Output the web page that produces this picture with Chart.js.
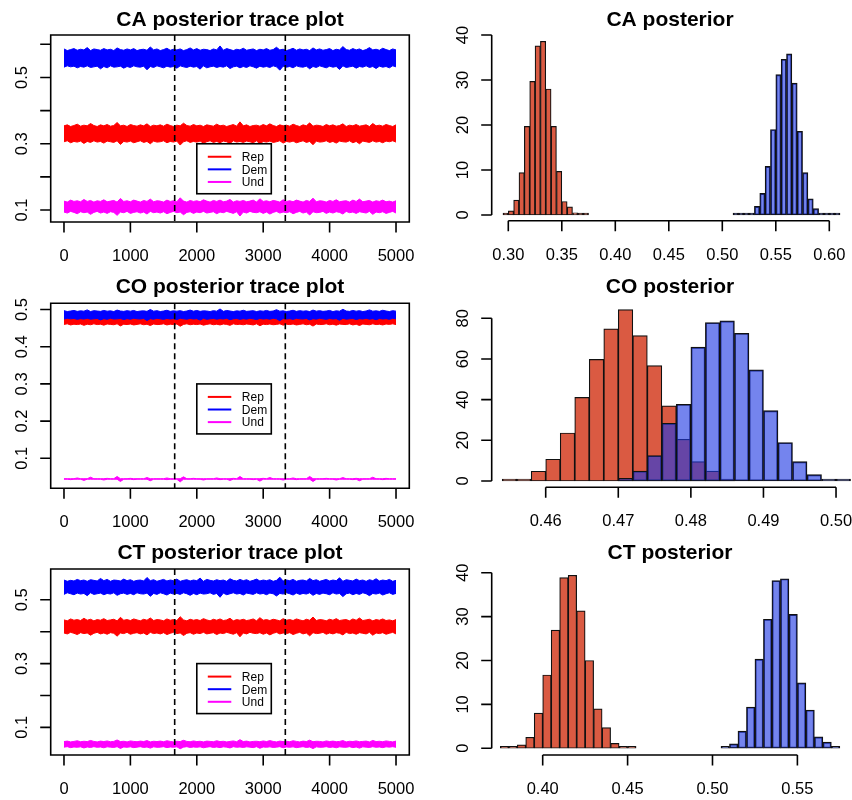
<!DOCTYPE html>
<html><head><meta charset="utf-8">
<script src="https://cdn.jsdelivr.net/npm/chart.js@4/dist/chart.umd.min.js"></script>
<style>
html,body{margin:0;padding:0;background:#fff;width:852px;height:800px;overflow:hidden}
canvas{position:absolute;left:0;top:0}
</style></head>
<body>
<canvas id="c1" width="852" height="800"></canvas>
<canvas id="c2" width="852" height="800"></canvas>
<canvas id="c3" width="852" height="800"></canvas>
<canvas id="c4" width="852" height="800"></canvas>
<canvas id="c5" width="852" height="800"></canvas>
<canvas id="c6" width="852" height="800"></canvas>
<script>
// ---------------- DATA ----------------
const seriesNames = ['Rep', 'Dem', 'Und'];
const iterations = [0,50,100,150,200,250,300,350,400,450,500,550,600,650,700,750,800,850,900,950,1000,1050,1100,1150,1200,1250,1300,1350,1400,1450,1500,1550,1600,1650,1700,1750,1800,1850,1900,1950,2000,2050,2100,2150,2200,2250,2300,2350,2400,2450,2500,2550,2600,2650,2700,2750,2800,2850,2900,2950,3000,3050,3100,3150,3200,3250,3300,3350,3400,3450,3500,3550,3600,3650,3700,3750,3800,3850,3900,3950,4000,4050,4100,4150,4200,4250,4300,4350,4400,4450,4500,4550,4600,4650,4700,4750,4800,4850,4900,4950,5000];
const chainSplits = [1667, 3333];

// trace envelopes (local upper / lower extent of the sampled values)
const caRepHi = [0.354,0.357,0.352,0.355,0.359,0.353,0.356,0.354,0.361,0.355,0.352,0.357,0.354,0.358,0.353,0.355,0.364,0.354,0.356,0.352,0.358,0.355,0.353,0.357,0.354,0.360,0.352,0.356,0.354,0.357,0.353,0.359,0.355,0.352,0.356,0.354,0.362,0.355,0.353,0.358,0.354,0.356,0.352,0.357,0.355,0.353,0.359,0.354,0.356,0.352,0.355,0.358,0.353,0.366,0.354,0.357,0.352,0.355,0.356,0.353,0.358,0.354,0.360,0.355,0.352,0.357,0.354,0.356,0.353,0.359,0.355,0.352,0.357,0.354,0.363,0.353,0.356,0.355,0.352,0.358,0.354,0.357,0.353,0.355,0.360,0.352,0.356,0.354,0.358,0.353,0.355,0.357,0.352,0.361,0.354,0.356,0.353,0.358,0.355,0.352,0.357];
const caRepLo = [0.306,0.309,0.303,0.307,0.305,0.308,0.301,0.307,0.304,0.309,0.305,0.307,0.302,0.308,0.306,0.304,0.309,0.298,0.307,0.305,0.308,0.303,0.306,0.309,0.304,0.307,0.300,0.308,0.305,0.306,0.309,0.303,0.307,0.305,0.308,0.296,0.306,0.309,0.304,0.307,0.305,0.308,0.302,0.306,0.309,0.304,0.307,0.303,0.308,0.306,0.301,0.309,0.305,0.307,0.304,0.308,0.306,0.303,0.309,0.299,0.307,0.305,0.308,0.304,0.306,0.309,0.302,0.307,0.305,0.308,0.303,0.306,0.309,0.304,0.307,0.297,0.308,0.305,0.306,0.309,0.304,0.307,0.302,0.308,0.306,0.305,0.309,0.303,0.307,0.300,0.308,0.306,0.304,0.309,0.305,0.307,0.303,0.308,0.306,0.309,0.305];
const caDemHi = [0.586,0.581,0.584,0.587,0.582,0.585,0.583,0.590,0.581,0.586,0.584,0.582,0.587,0.583,0.585,0.581,0.589,0.584,0.582,0.586,0.583,0.587,0.581,0.584,0.585,0.582,0.592,0.583,0.586,0.581,0.584,0.588,0.582,0.585,0.583,0.586,0.581,0.584,0.589,0.583,0.587,0.582,0.585,0.584,0.581,0.586,0.583,0.595,0.582,0.587,0.584,0.581,0.585,0.583,0.588,0.582,0.584,0.586,0.581,0.585,0.583,0.587,0.582,0.584,0.591,0.583,0.585,0.581,0.584,0.588,0.582,0.586,0.583,0.585,0.581,0.589,0.583,0.586,0.582,0.584,0.587,0.581,0.585,0.583,0.593,0.584,0.582,0.587,0.583,0.586,0.581,0.584,0.590,0.583,0.585,0.582,0.588,0.584,0.581,0.586,0.583];
const caDemLo = [0.531,0.535,0.532,0.534,0.529,0.533,0.531,0.535,0.530,0.532,0.534,0.526,0.533,0.529,0.535,0.531,0.532,0.534,0.528,0.533,0.530,0.535,0.532,0.531,0.534,0.523,0.533,0.530,0.535,0.532,0.529,0.534,0.531,0.533,0.528,0.535,0.532,0.530,0.534,0.531,0.533,0.525,0.535,0.529,0.532,0.534,0.530,0.533,0.531,0.535,0.527,0.532,0.534,0.529,0.533,0.530,0.535,0.532,0.528,0.534,0.531,0.533,0.530,0.535,0.532,0.522,0.534,0.531,0.533,0.529,0.535,0.532,0.531,0.534,0.526,0.533,0.530,0.535,0.532,0.529,0.534,0.531,0.533,0.524,0.535,0.530,0.532,0.534,0.528,0.533,0.531,0.535,0.530,0.533,0.527,0.534,0.531,0.533,0.529,0.535,0.532];
const caUndHi = [0.127,0.124,0.130,0.126,0.128,0.125,0.132,0.126,0.129,0.124,0.128,0.126,0.131,0.125,0.127,0.129,0.124,0.135,0.126,0.128,0.125,0.130,0.127,0.124,0.129,0.126,0.133,0.125,0.128,0.127,0.124,0.130,0.126,0.128,0.125,0.137,0.127,0.124,0.129,0.126,0.128,0.125,0.131,0.127,0.124,0.129,0.126,0.130,0.125,0.127,0.132,0.124,0.128,0.126,0.129,0.125,0.127,0.130,0.124,0.134,0.126,0.128,0.125,0.129,0.127,0.124,0.131,0.126,0.128,0.125,0.130,0.127,0.124,0.129,0.126,0.136,0.125,0.128,0.127,0.124,0.129,0.126,0.131,0.125,0.127,0.128,0.124,0.130,0.126,0.133,0.125,0.127,0.129,0.124,0.128,0.126,0.130,0.125,0.127,0.124,0.128];
const caUndLo = [0.094,0.091,0.096,0.093,0.089,0.095,0.092,0.094,0.087,0.093,0.096,0.091,0.094,0.090,0.095,0.093,0.084,0.094,0.092,0.096,0.090,0.093,0.095,0.091,0.094,0.088,0.096,0.092,0.094,0.091,0.095,0.089,0.093,0.096,0.092,0.094,0.086,0.093,0.095,0.090,0.094,0.092,0.096,0.091,0.093,0.095,0.089,0.094,0.092,0.096,0.093,0.090,0.095,0.082,0.094,0.091,0.096,0.093,0.092,0.095,0.090,0.094,0.088,0.093,0.096,0.091,0.094,0.092,0.095,0.089,0.093,0.096,0.091,0.094,0.085,0.095,0.092,0.093,0.096,0.090,0.094,0.091,0.095,0.093,0.088,0.096,0.092,0.094,0.090,0.095,0.093,0.091,0.096,0.087,0.094,0.092,0.095,0.090,0.093,0.096,0.091];

const coRepHi = [0.4800,0.4815,0.4790,0.4805,0.4825,0.4795,0.4810,0.4800,0.4835,0.4805,0.4790,0.4815,0.4800,0.4820,0.4795,0.4805,0.4850,0.4800,0.4810,0.4790,0.4820,0.4805,0.4795,0.4815,0.4800,0.4830,0.4790,0.4810,0.4800,0.4815,0.4795,0.4825,0.4805,0.4790,0.4810,0.4800,0.4840,0.4805,0.4795,0.4820,0.4800,0.4810,0.4790,0.4815,0.4805,0.4795,0.4825,0.4800,0.4810,0.4790,0.4805,0.4820,0.4795,0.4860,0.4800,0.4815,0.4790,0.4805,0.4810,0.4795,0.4820,0.4800,0.4830,0.4805,0.4790,0.4815,0.4800,0.4810,0.4795,0.4825,0.4805,0.4790,0.4815,0.4800,0.4845,0.4795,0.4810,0.4805,0.4790,0.4820,0.4800,0.4815,0.4795,0.4805,0.4830,0.4790,0.4810,0.4800,0.4820,0.4795,0.4805,0.4815,0.4790,0.4835,0.4800,0.4810,0.4795,0.4820,0.4805,0.4790,0.4815];
const coRepLo = [0.4600,0.4615,0.4585,0.4605,0.4595,0.4610,0.4575,0.4605,0.4590,0.4615,0.4595,0.4605,0.4580,0.4610,0.4600,0.4590,0.4615,0.4560,0.4605,0.4595,0.4610,0.4585,0.4600,0.4615,0.4590,0.4605,0.4570,0.4610,0.4595,0.4600,0.4615,0.4585,0.4605,0.4595,0.4610,0.4550,0.4600,0.4615,0.4590,0.4605,0.4595,0.4610,0.4580,0.4600,0.4615,0.4590,0.4605,0.4585,0.4610,0.4600,0.4575,0.4615,0.4595,0.4605,0.4590,0.4610,0.4600,0.4585,0.4615,0.4565,0.4605,0.4595,0.4610,0.4590,0.4600,0.4615,0.4580,0.4605,0.4595,0.4610,0.4585,0.4600,0.4615,0.4590,0.4605,0.4555,0.4610,0.4595,0.4600,0.4615,0.4590,0.4605,0.4580,0.4610,0.4600,0.4595,0.4615,0.4585,0.4605,0.4570,0.4610,0.4600,0.4590,0.4615,0.4595,0.4605,0.4585,0.4610,0.4600,0.4615,0.4595];
const coDemHi = [0.4970,0.4945,0.4960,0.4975,0.4950,0.4965,0.4955,0.4990,0.4945,0.4970,0.4960,0.4950,0.4975,0.4955,0.4965,0.4945,0.4985,0.4960,0.4950,0.4970,0.4955,0.4975,0.4945,0.4960,0.4965,0.4950,0.5000,0.4955,0.4970,0.4945,0.4960,0.4980,0.4950,0.4965,0.4955,0.4970,0.4945,0.4960,0.4985,0.4955,0.4975,0.4950,0.4965,0.4960,0.4945,0.4970,0.4955,0.5015,0.4950,0.4975,0.4960,0.4945,0.4965,0.4955,0.4980,0.4950,0.4960,0.4970,0.4945,0.4965,0.4955,0.4975,0.4950,0.4960,0.4995,0.4955,0.4965,0.4945,0.4960,0.4980,0.4950,0.4970,0.4955,0.4965,0.4945,0.4985,0.4955,0.4970,0.4950,0.4960,0.4975,0.4945,0.4965,0.4955,0.5005,0.4960,0.4950,0.4975,0.4955,0.4970,0.4945,0.4960,0.4990,0.4955,0.4965,0.4950,0.4980,0.4960,0.4945,0.4970,0.4955];
const coDemLo = [0.4745,0.4765,0.4750,0.4760,0.4735,0.4755,0.4745,0.4765,0.4740,0.4750,0.4760,0.4720,0.4755,0.4735,0.4765,0.4745,0.4750,0.4760,0.4730,0.4755,0.4740,0.4765,0.4750,0.4745,0.4760,0.4705,0.4755,0.4740,0.4765,0.4750,0.4735,0.4760,0.4745,0.4755,0.4730,0.4765,0.4750,0.4740,0.4760,0.4745,0.4755,0.4715,0.4765,0.4735,0.4750,0.4760,0.4740,0.4755,0.4745,0.4765,0.4725,0.4750,0.4760,0.4735,0.4755,0.4740,0.4765,0.4750,0.4730,0.4760,0.4745,0.4755,0.4740,0.4765,0.4750,0.4700,0.4760,0.4745,0.4755,0.4735,0.4765,0.4750,0.4745,0.4760,0.4720,0.4755,0.4740,0.4765,0.4750,0.4735,0.4760,0.4745,0.4755,0.4710,0.4765,0.4740,0.4750,0.4760,0.4730,0.4755,0.4745,0.4765,0.4740,0.4755,0.4725,0.4760,0.4745,0.4755,0.4735,0.4765,0.4750];
const coUndHi = [0.0452,0.0452,0.0452,0.0452,0.0472,0.0452,0.0452,0.0452,0.0492,0.0452,0.0452,0.0452,0.0452,0.0462,0.0452,0.0452,0.0512,0.0452,0.0452,0.0452,0.0462,0.0452,0.0452,0.0452,0.0452,0.0482,0.0452,0.0452,0.0452,0.0452,0.0452,0.0472,0.0452,0.0452,0.0452,0.0452,0.0502,0.0452,0.0452,0.0462,0.0452,0.0452,0.0452,0.0452,0.0452,0.0452,0.0472,0.0452,0.0452,0.0452,0.0452,0.0462,0.0452,0.0512,0.0452,0.0452,0.0452,0.0452,0.0452,0.0452,0.0462,0.0452,0.0482,0.0452,0.0452,0.0452,0.0452,0.0452,0.0452,0.0472,0.0452,0.0452,0.0452,0.0452,0.0512,0.0452,0.0452,0.0452,0.0452,0.0462,0.0452,0.0452,0.0452,0.0452,0.0482,0.0452,0.0452,0.0452,0.0462,0.0452,0.0452,0.0452,0.0452,0.0492,0.0452,0.0452,0.0452,0.0462,0.0452,0.0452,0.0452];
const coUndLo = [0.0437,0.0437,0.0427,0.0437,0.0437,0.0437,0.0407,0.0437,0.0437,0.0437,0.0437,0.0437,0.0417,0.0437,0.0437,0.0437,0.0437,0.0377,0.0437,0.0437,0.0437,0.0427,0.0437,0.0437,0.0437,0.0437,0.0397,0.0437,0.0437,0.0437,0.0437,0.0427,0.0437,0.0437,0.0437,0.0367,0.0437,0.0437,0.0437,0.0437,0.0437,0.0437,0.0417,0.0437,0.0437,0.0437,0.0437,0.0427,0.0437,0.0437,0.0407,0.0437,0.0437,0.0437,0.0437,0.0437,0.0437,0.0427,0.0437,0.0387,0.0437,0.0437,0.0437,0.0437,0.0437,0.0437,0.0417,0.0437,0.0437,0.0437,0.0427,0.0437,0.0437,0.0437,0.0437,0.0377,0.0437,0.0437,0.0437,0.0437,0.0437,0.0437,0.0417,0.0437,0.0437,0.0437,0.0437,0.0427,0.0437,0.0397,0.0437,0.0437,0.0437,0.0437,0.0437,0.0437,0.0427,0.0437,0.0437,0.0437,0.0437];

const ctRepHi = [0.437,0.434,0.440,0.436,0.438,0.435,0.442,0.436,0.439,0.434,0.438,0.436,0.441,0.435,0.437,0.439,0.434,0.445,0.436,0.438,0.435,0.440,0.437,0.434,0.439,0.436,0.443,0.435,0.438,0.437,0.434,0.440,0.436,0.438,0.435,0.447,0.437,0.434,0.439,0.436,0.438,0.435,0.441,0.437,0.434,0.439,0.436,0.440,0.435,0.437,0.442,0.434,0.438,0.436,0.439,0.435,0.437,0.440,0.434,0.444,0.436,0.438,0.435,0.439,0.437,0.434,0.441,0.436,0.438,0.435,0.440,0.437,0.434,0.439,0.436,0.446,0.435,0.438,0.437,0.434,0.439,0.436,0.441,0.435,0.437,0.438,0.434,0.440,0.436,0.443,0.435,0.437,0.439,0.434,0.438,0.436,0.440,0.435,0.437,0.434,0.438];
const ctRepLo = [0.396,0.393,0.398,0.395,0.391,0.397,0.394,0.396,0.389,0.395,0.398,0.393,0.396,0.392,0.397,0.395,0.386,0.396,0.394,0.398,0.392,0.395,0.397,0.393,0.396,0.390,0.398,0.394,0.396,0.393,0.397,0.391,0.395,0.398,0.394,0.396,0.388,0.395,0.397,0.392,0.396,0.394,0.398,0.393,0.395,0.397,0.391,0.396,0.394,0.398,0.395,0.392,0.397,0.384,0.396,0.393,0.398,0.395,0.394,0.397,0.392,0.396,0.390,0.395,0.398,0.393,0.396,0.394,0.397,0.391,0.395,0.398,0.393,0.396,0.387,0.397,0.394,0.395,0.398,0.392,0.396,0.393,0.397,0.395,0.390,0.398,0.394,0.396,0.392,0.397,0.395,0.393,0.398,0.389,0.396,0.394,0.397,0.392,0.395,0.398,0.393];
const ctDemHi = [0.562,0.558,0.561,0.559,0.564,0.560,0.562,0.558,0.563,0.561,0.559,0.567,0.560,0.564,0.558,0.562,0.561,0.559,0.565,0.560,0.563,0.558,0.561,0.562,0.559,0.570,0.560,0.563,0.558,0.561,0.564,0.559,0.562,0.560,0.565,0.558,0.561,0.563,0.559,0.562,0.560,0.568,0.558,0.564,0.561,0.559,0.563,0.560,0.562,0.558,0.566,0.561,0.559,0.564,0.560,0.563,0.558,0.561,0.565,0.559,0.562,0.560,0.563,0.558,0.561,0.571,0.559,0.562,0.560,0.564,0.558,0.561,0.562,0.559,0.567,0.560,0.563,0.558,0.561,0.564,0.559,0.562,0.560,0.569,0.558,0.563,0.561,0.559,0.565,0.560,0.562,0.558,0.563,0.560,0.566,0.559,0.562,0.560,0.564,0.558,0.561];
const ctDemLo = [0.517,0.522,0.519,0.516,0.521,0.518,0.520,0.513,0.522,0.517,0.519,0.521,0.516,0.520,0.518,0.522,0.514,0.519,0.521,0.517,0.520,0.516,0.522,0.519,0.518,0.521,0.511,0.520,0.517,0.522,0.519,0.515,0.521,0.518,0.520,0.517,0.522,0.519,0.514,0.520,0.516,0.521,0.518,0.519,0.522,0.517,0.520,0.508,0.521,0.516,0.519,0.522,0.518,0.520,0.515,0.521,0.519,0.517,0.522,0.518,0.520,0.516,0.521,0.519,0.512,0.520,0.518,0.522,0.519,0.515,0.521,0.517,0.520,0.518,0.522,0.514,0.520,0.517,0.521,0.519,0.516,0.522,0.518,0.520,0.510,0.519,0.521,0.516,0.520,0.517,0.522,0.519,0.513,0.520,0.518,0.521,0.515,0.519,0.522,0.517,0.520];
const ctUndHi = [0.0555,0.0570,0.0545,0.0560,0.0580,0.0550,0.0565,0.0555,0.0590,0.0560,0.0545,0.0570,0.0555,0.0575,0.0550,0.0560,0.0605,0.0555,0.0565,0.0545,0.0575,0.0560,0.0550,0.0570,0.0555,0.0585,0.0545,0.0565,0.0555,0.0570,0.0550,0.0580,0.0560,0.0545,0.0565,0.0555,0.0595,0.0560,0.0550,0.0575,0.0555,0.0565,0.0545,0.0570,0.0560,0.0550,0.0580,0.0555,0.0565,0.0545,0.0560,0.0575,0.0550,0.0615,0.0555,0.0570,0.0545,0.0560,0.0565,0.0550,0.0575,0.0555,0.0585,0.0560,0.0545,0.0570,0.0555,0.0565,0.0550,0.0580,0.0560,0.0545,0.0570,0.0555,0.0600,0.0550,0.0565,0.0560,0.0545,0.0575,0.0555,0.0570,0.0550,0.0560,0.0585,0.0545,0.0565,0.0555,0.0575,0.0550,0.0560,0.0570,0.0545,0.0590,0.0555,0.0565,0.0550,0.0575,0.0560,0.0545,0.0570];
const ctUndLo = [0.0380,0.0395,0.0365,0.0385,0.0375,0.0390,0.0355,0.0385,0.0370,0.0395,0.0375,0.0385,0.0360,0.0390,0.0380,0.0370,0.0395,0.0340,0.0385,0.0375,0.0390,0.0365,0.0380,0.0395,0.0370,0.0385,0.0350,0.0390,0.0375,0.0380,0.0395,0.0365,0.0385,0.0375,0.0390,0.0330,0.0380,0.0395,0.0370,0.0385,0.0375,0.0390,0.0360,0.0380,0.0395,0.0370,0.0385,0.0365,0.0390,0.0380,0.0355,0.0395,0.0375,0.0385,0.0370,0.0390,0.0380,0.0365,0.0395,0.0345,0.0385,0.0375,0.0390,0.0370,0.0380,0.0395,0.0360,0.0385,0.0375,0.0390,0.0365,0.0380,0.0395,0.0370,0.0385,0.0335,0.0390,0.0375,0.0380,0.0395,0.0370,0.0385,0.0360,0.0390,0.0380,0.0375,0.0395,0.0365,0.0385,0.0350,0.0390,0.0380,0.0370,0.0395,0.0375,0.0385,0.0365,0.0390,0.0380,0.0395,0.0375];

// histogram bins (mid points) and densities
const caRepMid = [0.2975,0.3025,0.3075,0.3125,0.3175,0.3225,0.3275,0.3325,0.3375,0.3425,0.3475,0.3525,0.3575,0.3625,0.3675,0.3725];
const caRepDens = [0.3,0.9,3.3,9.4,19.7,29.7,37.6,38.6,28.0,19.7,9.7,3.0,1.8,0.5,0.2,0.4];
const caDemMid = [0.5125,0.5175,0.5225,0.5275,0.5325,0.5375,0.5425,0.5475,0.5525,0.5575,0.5625,0.5675,0.5725,0.5775,0.5825,0.5875,0.5925,0.5975,0.6025,0.6075];
const caDemDens = [0.2,0.2,0.3,0.2,1.9,4.8,10.8,19.0,31.2,34.6,35.8,29.3,18.6,9.4,3.6,1.4,0.2,0.3,0.2,0.2];
const coRepMid = [0.455,0.457,0.459,0.461,0.463,0.465,0.467,0.469,0.471,0.473,0.475,0.477,0.479,0.481,0.483,0.485];
const coRepDens = [0.3,0.8,4.8,10.7,23.6,41.1,59.8,74.8,84.3,71.5,56.7,36.9,20.5,9.5,4.9,1.0];
const coDemMid = [0.471,0.473,0.475,0.477,0.479,0.481,0.483,0.485,0.487,0.489,0.491,0.493,0.495,0.497,0.499,0.501];
const coDemDens = [1.3,4.9,12.5,28.4,37.7,65.8,77.9,78.7,72.6,54.6,34.6,18.9,9.5,3.1,0.8,0.3];
const ctRepMid = [0.3775,0.3825,0.3875,0.3925,0.3975,0.4025,0.4075,0.4125,0.4175,0.4225,0.4275,0.4325,0.4375,0.4425,0.4475,0.4525];
const ctRepDens = [0.1,0.4,0.8,2.5,8.0,16.7,26.9,38.9,39.4,31.3,20.0,9.0,4.7,1.1,0.1,0.1];
const ctDemMid = [0.5075,0.5125,0.5175,0.5225,0.5275,0.5325,0.5375,0.5425,0.5475,0.5525,0.5575,0.5625,0.5675,0.5725];
const ctDemDens = [0.3,1.0,3.9,9.4,20.3,29.4,38.2,38.6,30.5,14.9,8.7,2.6,1.4,0.3];

// tick values and labels
const traceXTicks = [0,1000,2000,3000,4000,5000];
const traceXLabels = ['0','1000','2000','3000','4000','5000'];
const caTraceYTicks = [0.1,0.2,0.3,0.4,0.5,0.6];
const caTraceYLabels = ['0.1','','0.3','','0.5',''];
const coTraceYTicks = [0.1,0.2,0.3,0.4,0.5];
const coTraceYLabels = ['0.1','0.2','0.3','0.4','0.5'];
const ctTraceYTicks = [0.1,0.2,0.3,0.4,0.5];
const ctTraceYLabels = ['0.1','','0.3','','0.5'];
const caHistXTicks = [0.30,0.35,0.40,0.45,0.50,0.55,0.60];
const caHistXLabels = ['0.30','0.35','0.40','0.45','0.50','0.55','0.60'];
const caHistYTicks = [0,10,20,30,40];
const caHistYLabels = ['0','10','20','30','40'];
const coHistXTicks = [0.46,0.47,0.48,0.49,0.50];
const coHistXLabels = ['0.46','0.47','0.48','0.49','0.50'];
const coHistYTicks = [0,20,40,60,80];
const coHistYLabels = ['0','20','40','60','80'];
const ctHistXTicks = [0.40,0.45,0.50,0.55];
const ctHistXLabels = ['0.40','0.45','0.50','0.55'];
const ctHistYTicks = [0,10,20,30,40];
const ctHistYLabels = ['0','10','20','30','40'];

// ---------------- STYLE / DRAWING ----------------
const W = 852, H = 800;
const traceColors = ['#FF0000', '#0000FF', '#FF00FF'];
const histRed = 'rgb(218,90,66)';
const histBlue = 'rgba(30,57,228,0.62)';
const FONT = '"Liberation Sans", Arial, sans-serif';

const rStyle = {
  id: 'rStyle',
  afterDraw(chart, args, o) {
    const ctx = chart.ctx, ca = chart.chartArea, xs = chart.scales.x, ys = chart.scales.y;
    const TL = 10.5;
    ctx.save();
    if (o.vlines) {
      ctx.strokeStyle = '#000'; ctx.lineWidth = 1.6; ctx.setLineDash([6, 4]);
      for (const v of o.vlines) {
        const p = xs.getPixelForValue(v);
        ctx.beginPath(); ctx.moveTo(p, ca.top); ctx.lineTo(p, ca.bottom); ctx.stroke();
      }
      ctx.setLineDash([]);
    }
    if (o.legend) {
      const lx = xs.getPixelForValue(o.legend.x), ly = ys.getPixelForValue(o.legend.y);
      ctx.fillStyle = '#fff'; ctx.fillRect(lx, ly, 74.5, 50);
      ctx.strokeStyle = '#000'; ctx.lineWidth = 1.6; ctx.strokeRect(lx, ly, 74.5, 50);
      ctx.font = '12px ' + FONT; ctx.textAlign = 'left'; ctx.textBaseline = 'middle';
      seriesNames.forEach((n, i) => {
        const y = ly + 13 + i * 12.6;
        ctx.strokeStyle = traceColors[i]; ctx.lineWidth = 2;
        ctx.beginPath(); ctx.moveTo(lx + 11, y); ctx.lineTo(lx + 34.5, y); ctx.stroke();
        ctx.fillStyle = '#000'; ctx.fillText(n, lx + 45, y + 1);
      });
    }
    ctx.strokeStyle = '#000'; ctx.lineWidth = 1.6; ctx.fillStyle = '#000';
    const xp = o.xTicks.map(v => xs.getPixelForValue(v));
    const yp = o.yTicks.map(v => ys.getPixelForValue(v));
    ctx.beginPath();
    if (o.box) {
      ctx.rect(ca.left, ca.top, ca.right - ca.left, ca.bottom - ca.top);
    } else {
      ctx.moveTo(xp[0], ca.bottom); ctx.lineTo(xp[xp.length - 1], ca.bottom);
      ctx.moveTo(ca.left, yp[0]); ctx.lineTo(ca.left, yp[yp.length - 1]);
    }
    xp.forEach(p => { ctx.moveTo(p, ca.bottom); ctx.lineTo(p, ca.bottom + TL); });
    yp.forEach(p => { ctx.moveTo(ca.left, p); ctx.lineTo(ca.left - TL, p); });
    ctx.stroke();
    ctx.font = '16.5px ' + FONT; ctx.textAlign = 'center'; ctx.textBaseline = 'middle';
    o.xTicks.forEach((v, i) => { const s = o.xLabels[i]; if (s) ctx.fillText(s, xp[i], ca.bottom + 34.5); });
    o.yTicks.forEach((v, i) => {
      const s = o.yLabels[i];
      if (s) { ctx.save(); ctx.translate(ca.left - 28.5, yp[i]); ctx.rotate(-Math.PI / 2); ctx.fillText(s, 0, 0); ctx.restore(); }
    });
    ctx.font = 'bold 21px ' + FONT; ctx.textBaseline = 'alphabetic';
    ctx.fillText(o.title, o.titleX !== undefined ? o.titleX : (ca.left + ca.right) / 2, o.titleY);
    ctx.restore();
  }
};

function baseOptions(area, xr, yr, style) {
  return {
    responsive: false, animation: false, events: [],
    layout: { padding: { left: area[0], top: area[1], right: W - area[2], bottom: H - area[3] } },
    scales: {
      x: { type: 'linear', display: false, min: xr[0], max: xr[1], offset: false,
           afterBuildTicks: s => { s.ticks = [{ value: s.min }, { value: s.max }]; } },
      y: { type: 'linear', display: false, min: yr[0], max: yr[1],
           afterBuildTicks: s => { s.ticks = [{ value: s.min }, { value: s.max }]; } }
    },
    plugins: { legend: { display: false }, tooltip: { enabled: false }, rStyle: style }
  };
}

function traceChart(id, series, area, yr, style) {
  const pts = arr => iterations.map((x, i) => ({ x: x, y: arr[i] }));
  const datasets = [];
  series.forEach((s, k) => {
    const common = { borderColor: traceColors[k], backgroundColor: traceColors[k], borderWidth: 1,
                     pointRadius: 0, tension: 0, order: 3 - k, label: seriesNames[k] };
    datasets.push(Object.assign({ data: pts(s[0]), fill: '+1' }, common));
    datasets.push(Object.assign({ data: pts(s[1]), fill: false }, common));
  });
  style.box = true; style.vlines = chainSplits;
  style.legend = { x: 2000, y: 0.3 };
  style.xTicks = traceXTicks; style.xLabels = traceXLabels;
  new Chart(document.getElementById(id), {
    type: 'line', data: { datasets }, options: baseOptions(area, [-200, 5200], yr, style), plugins: [rStyle]
  });
}

function histChart(id, red, blue, area, xr, yr, style) {
  const pts = (m, d) => m.map((x, i) => ({ x: x, y: d[i] }));
  const common = { borderColor: '#111', borderWidth: 1.2, borderSkipped: false, grouped: false,
                   barPercentage: 1, categoryPercentage: 1, minBarLength: 2 };
  const datasets = [
    Object.assign({ label: 'Rep', data: pts(red[0], red[1]), backgroundColor: histRed, order: 2 }, common),
    Object.assign({ label: 'Dem', data: pts(blue[0], blue[1]), backgroundColor: histBlue, order: 1 }, common)
  ];
  style.box = false; style.titleX = 670;
  new Chart(document.getElementById(id), {
    type: 'bar', data: { datasets }, options: baseOptions(area, xr, yr, style), plugins: [rStyle]
  });
}

// CA
traceChart('c1', [[caRepHi, caRepLo], [caDemHi, caDemLo], [caUndHi, caUndLo]],
  [50.7, 35, 409.3, 222], [0.064, 0.628],
  { title: 'CA posterior trace plot', titleY: 25.5, yTicks: caTraceYTicks, yLabels: caTraceYLabels });
histChart('c2', [caRepMid, caRepDens], [caDemMid, caDemDens],
  [491.7, 35, 852, 220.7], [0.28449, 0.62121], [-1.267, 40.0],
  { title: 'CA posterior', titleY: 25.5, xTicks: caHistXTicks, xLabels: caHistXLabels, yTicks: caHistYTicks, yLabels: caHistYLabels });
// CO
traceChart('c3', [[coRepHi, coRepLo], [coDemHi, coDemLo], [coUndHi, coUndLo]],
  [50.7, 303.3, 409.3, 488.3], [0.0194, 0.5167],
  { title: 'CO posterior trace plot', titleY: 292.5, yTicks: coTraceYTicks, yLabels: coTraceYLabels });
histChart('c4', [coRepMid, coRepDens], [coDemMid, coDemDens],
  [491.7, 303.3, 852, 487.3], [0.45256, 0.50220], [-3.10, 87.37],
  { title: 'CO posterior', titleY: 292.5, xTicks: coHistXTicks, xLabels: coHistXLabels, yTicks: coHistYTicks, yLabels: coHistYLabels });
// CT
traceChart('c5', [[ctRepHi, ctRepLo], [ctDemHi, ctDemLo], [ctUndHi, ctUndLo]],
  [50.7, 569, 409.3, 755], [0.0134, 0.5966],
  { title: 'CT posterior trace plot', titleY: 559, yTicks: ctTraceYTicks, yLabels: ctTraceYLabels });
histChart('c6', [ctRepMid, ctRepDens], [ctDemMid, ctDemDens],
  [491.7, 569, 852, 755], [0.36997, 0.58216], [-1.53, 40.84],
  { title: 'CT posterior', titleY: 559, xTicks: ctHistXTicks, xLabels: ctHistXLabels, yTicks: ctHistYTicks, yLabels: ctHistYLabels });
</script>
</body></html>
